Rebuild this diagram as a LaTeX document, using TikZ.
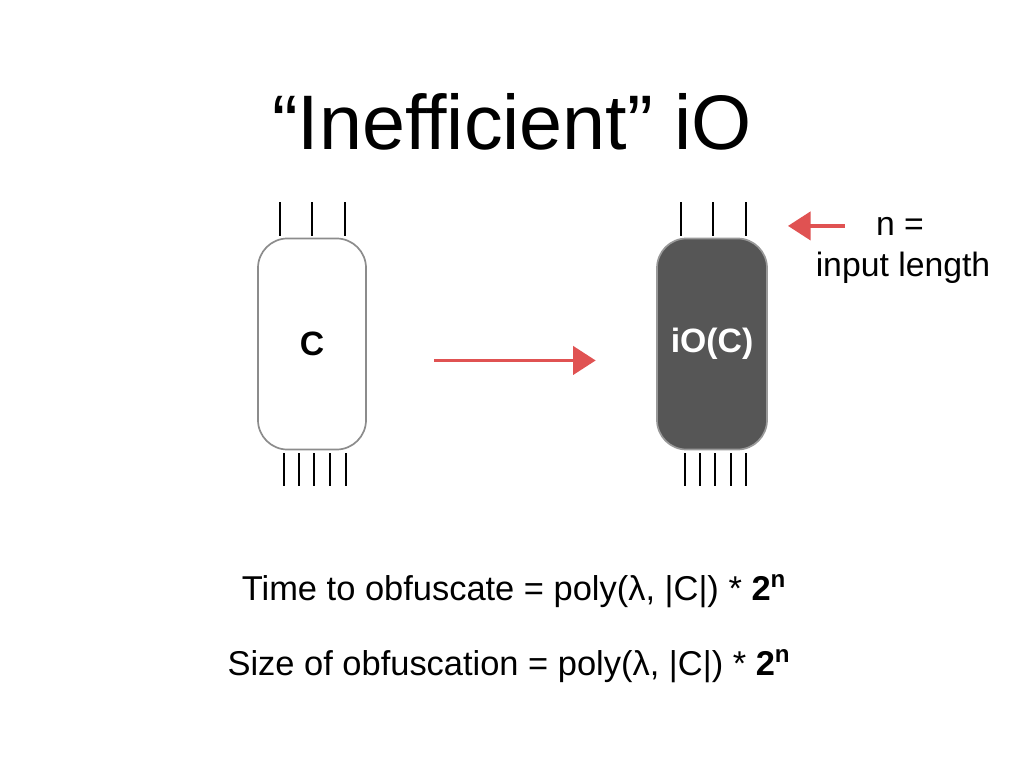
\documentclass[tikz,border=0pt]{standalone}
\usepackage{fontspec}
\setmainfont{Liberation Sans}
\usetikzlibrary{arrows.meta}
\definecolor{slidered}{HTML}{E05252}
\definecolor{boxdark}{HTML}{565656}

\begin{document}
\begin{tikzpicture}[x=0.025cm, y=-0.025cm, every node/.style={align=center, inner sep=0pt},
  circuitbox/.style={rectangle, rounded corners=21pt, line width=1.2pt, minimum height=5.275cm},
  wire/.style={line width=1.3pt, black},
  redarrow/.style={-{Triangle[length=16pt, width=20pt]}, line width=2.4pt, slidered}]
\useasboundingbox[fill=white] (0,0) rectangle (1024,768);

% Title
\node (title) [anchor=base, font=\fontsize{55}{60}\selectfont] at (512,150) {“Inefficient” iO};

% Circuit and its obfuscation
\node (circ) [circuitbox, draw=black!45, fill=white, minimum width=2.7cm, font=\fontsize{24}{28}\selectfont\bfseries] at (312,344) {C};
\node (obf) [circuitbox, draw=black!40, fill=boxdark, text=white, minimum width=2.75cm, font=\fontsize{24}{28}\selectfont\bfseries] at (712,344) {iO(C)};

% Input and output wires
\draw[wire] (280,202) -- (280,236) (312,202) -- (312,236) (345,202) -- (345,236);
\draw[wire] (284,453) -- (284,486) (299,453) -- (299,486) (314,453) -- (314,486) (330,453) -- (330,486) (346,453) -- (346,486);
\draw[wire] (681,202) -- (681,236) (713,202) -- (713,236) (746,202) -- (746,236);
\draw[wire] (685,453) -- (685,486) (700,453) -- (700,486) (715,453) -- (715,486) (731,453) -- (731,486) (746,453) -- (746,486);

% Input length note
\node (nsym) [anchor=base, font=\fontsize{24}{28}\selectfont] at (900,235) {n =};
\node (inlen) [anchor=base, font=\fontsize{24}{28}\selectfont] at (903,276) {input length};
\coordinate (wiretip) at (788,223);

% Arrows
\draw[redarrow, shorten <=48pt, shorten >=43pt] ([yshift=-11.7pt]circ.east) -- ([yshift=-11.7pt]obf.west);
\draw[redarrow, shorten <=22pt] (nsym.west) -- (nsym.west -| wiretip);

% Costs
\node (timecost) [anchor=base, font=\fontsize{24.5}{30}\selectfont] at (514,600) {Time to obfuscate = poly(λ, |C|) * \textbf{2\textsuperscript{n}}};
\node (sizecost) [anchor=base, font=\fontsize{24.5}{30}\selectfont] at (509,675) {Size of obfuscation = poly(λ, |C|) * \textbf{2\textsuperscript{n}}};

\end{tikzpicture}
\end{document}
